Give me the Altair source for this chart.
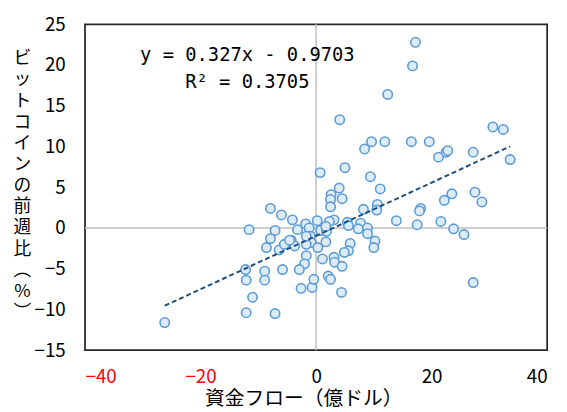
import altair as alt
import pandas as pd

# fund flow (100M USD) and bitcoin week-over-week change (%)
flow = [17.2, 16.7, 12.4, 4.1, 30.6, 32.4, 8.4, 9.6, 11.9, 16.5, 19.6, 21.2, 22.5, 22.8,
        27.2, 33.6, 0.7, 5.0, 9.4, 4.0, 2.6, 2.5, 4.5, 2.5, 11.1, 10.6, 10.5, 8.2, 18.1,
        17.9, 22.2, 23.5, 27.5, 28.7, 13.9, 17.5, 21.6, 23.8, 25.6, 3.1, 5.4, 5.6, 7.7,
        7.3, 8.9, 8.9, 10.2, 10.0, 5.9, 5.6, 4.9, -7.9, -6.0, -4.1, -11.6, -7.1, -7.9,
        -8.6, -6.4, -5.5, -4.3, -3.7, -3.2, -1.8, -1.2, 0.2, 0.8, 1.8, -1.0, -0.85, 0.3,
        1.7, -1.7, -1.7, -2.0, 1.1, 3.1, 3.2, 4.5, -26.2, -12.2, -12.1, -11.0, -12.1,
        -8.9, -8.9, -7.1, -5.8, -2.9, -2.6, -0.7, -0.4, 2.1, 2.5, 4.4, 27.2, 2.3, 1.7,
        -1.7, -4.6]
btc = [22.8, 19.9, 16.4, 13.3, 12.4, 12.1, 9.7, 10.6, 10.6, 10.6, 10.6, 8.7, 9.3, 9.5,
       9.3, 8.4, 6.8, 7.4, 6.3, 4.9, 4.1, 3.5, 3.6, 2.6, 4.8, 2.9, 2.2, 2.3, 2.4,
       2.1, 3.4, 4.2, 4.4, 3.2, 0.9, 0.4, 0.8, -0.1, -0.8, 1.0, 0.7, 0.3, 0.6,
       -0.1, 0.0, -0.7, -1.6, -2.4, -1.9, -2.8, -3.0, 2.4, 1.6, 1.0, -0.2, -0.3, -1.3,
       -2.4, -2.7, -2.0, -1.5, -2.2, -0.2, 0.5, 0.0, 0.9, -0.3, -0.4, -1.0, -1.8, -2.4,
       -1.7, -2.0, -3.4, -4.4, -3.8, -3.6, -4.2, -4.7, -11.6, -5.1, -6.4, -8.5, -10.4,
       -5.3, -6.4, -10.5, -5.1, -5.1, -7.4, -7.3, -6.3, -5.9, -6.3, -7.9, -6.7, 0.8, 0.2,
       -1.0, -1.5]

trend_x = [-26.2, 33.6]
slope = 0.327
intercept = -0.9703
eq_lines = ["y = 0.327x - 0.9703", "R² = 0.3705"]
eq_x = [-11.9, -11.9]
eq_y = [21.2, 17.9]

x_ticks = [-40, -20, 0, 20, 40]
y_ticks = [-15, -10, -5, 0, 5, 10, 15, 20, 25]
y_title = list("ビットコインの前週比") + ["︵", "%", "︶"]
x_title = "資金フロー（億ドル）"

pts = pd.DataFrame({"x": flow, "y": btc})
trend = pd.DataFrame({"x": trend_x, "y": [slope * v + intercept for v in trend_x]})
eq = pd.DataFrame({"x": eq_x, "y": eq_y, "t": eq_lines})

font = "Noto Sans CJK JP"
xscale = alt.Scale(domain=[-40, 40], nice=False, zero=False)
yscale = alt.Scale(domain=[-15, 25], nice=False, zero=False)

xaxis = alt.Axis(values=x_ticks, title=x_title, grid=False, ticks=False, tickSize=0,
                 domain=False, labelPadding=18, labelFontSize=19, labelFont=font,
                 labelColor={"condition": {"test": "datum.value < 0", "value": "#FF0000"},
                             "value": "#000000"},
                 titleFont=font, titleFontSize=20, titleFontWeight="normal",
                 titleColor="#000000", titleX=221, titleY=49, titleAlign="center",
                 titleBaseline="middle")
yaxis = alt.Axis(values=y_ticks, title=y_title, grid=False, ticks=False, tickSize=0,
                 domain=False, labelPadding=20, labelFontSize=19, labelFont=font,
                 labelColor="#000000", titleFont=font, titleFontSize=18,
                 titleFontWeight="normal", titleColor="#000000", titleAngle=0,
                 titleX=-64, titleY=35, titleAlign="center", titleBaseline="middle",
                 titleLineHeight=21.4)

zero_v = alt.Chart().mark_rule(color="#BFBFBF", strokeWidth=1.5).encode(
    x=alt.datum(0, scale=xscale, axis=xaxis))
zero_h = alt.Chart().mark_rule(color="#BFBFBF", strokeWidth=1.5).encode(
    y=alt.datum(0, scale=yscale, axis=yaxis))

points = alt.Chart(pts).mark_point(
    shape="circle", filled=True, fill="#DDEBF7", stroke="#5B9BD5", strokeWidth=1.6,
    size=90, opacity=1).encode(
    x=alt.X("x:Q", scale=xscale, axis=xaxis),
    y=alt.Y("y:Q", scale=yscale, axis=yaxis))

line = alt.Chart(trend).mark_line(color="#1F4E79", strokeWidth=2, strokeDash=[5, 3]).encode(
    x=alt.X("x:Q", scale=xscale, axis=xaxis),
    y=alt.Y("y:Q", scale=yscale, axis=yaxis))

text = alt.Chart(eq).mark_text(font="DejaVu Sans Mono", fontSize=19, align="center",
                               baseline="middle", color="#000000").encode(
    x=alt.X("x:Q", scale=xscale, axis=xaxis),
    y=alt.Y("y:Q", scale=yscale, axis=yaxis),
    text="t:N")

chart = alt.layer(zero_v, zero_h, points, line, text).properties(
    width=468, height=330,
    background="white",
    autosize=alt.AutoSizeParams(type="none"),
    padding={"left": 78, "top": 14, "right": 12, "bottom": 58},
).configure_view(stroke="#262626", strokeWidth=1.75)

chart.save("out.html", embed_options={"renderer": "svg", "actions": False})
